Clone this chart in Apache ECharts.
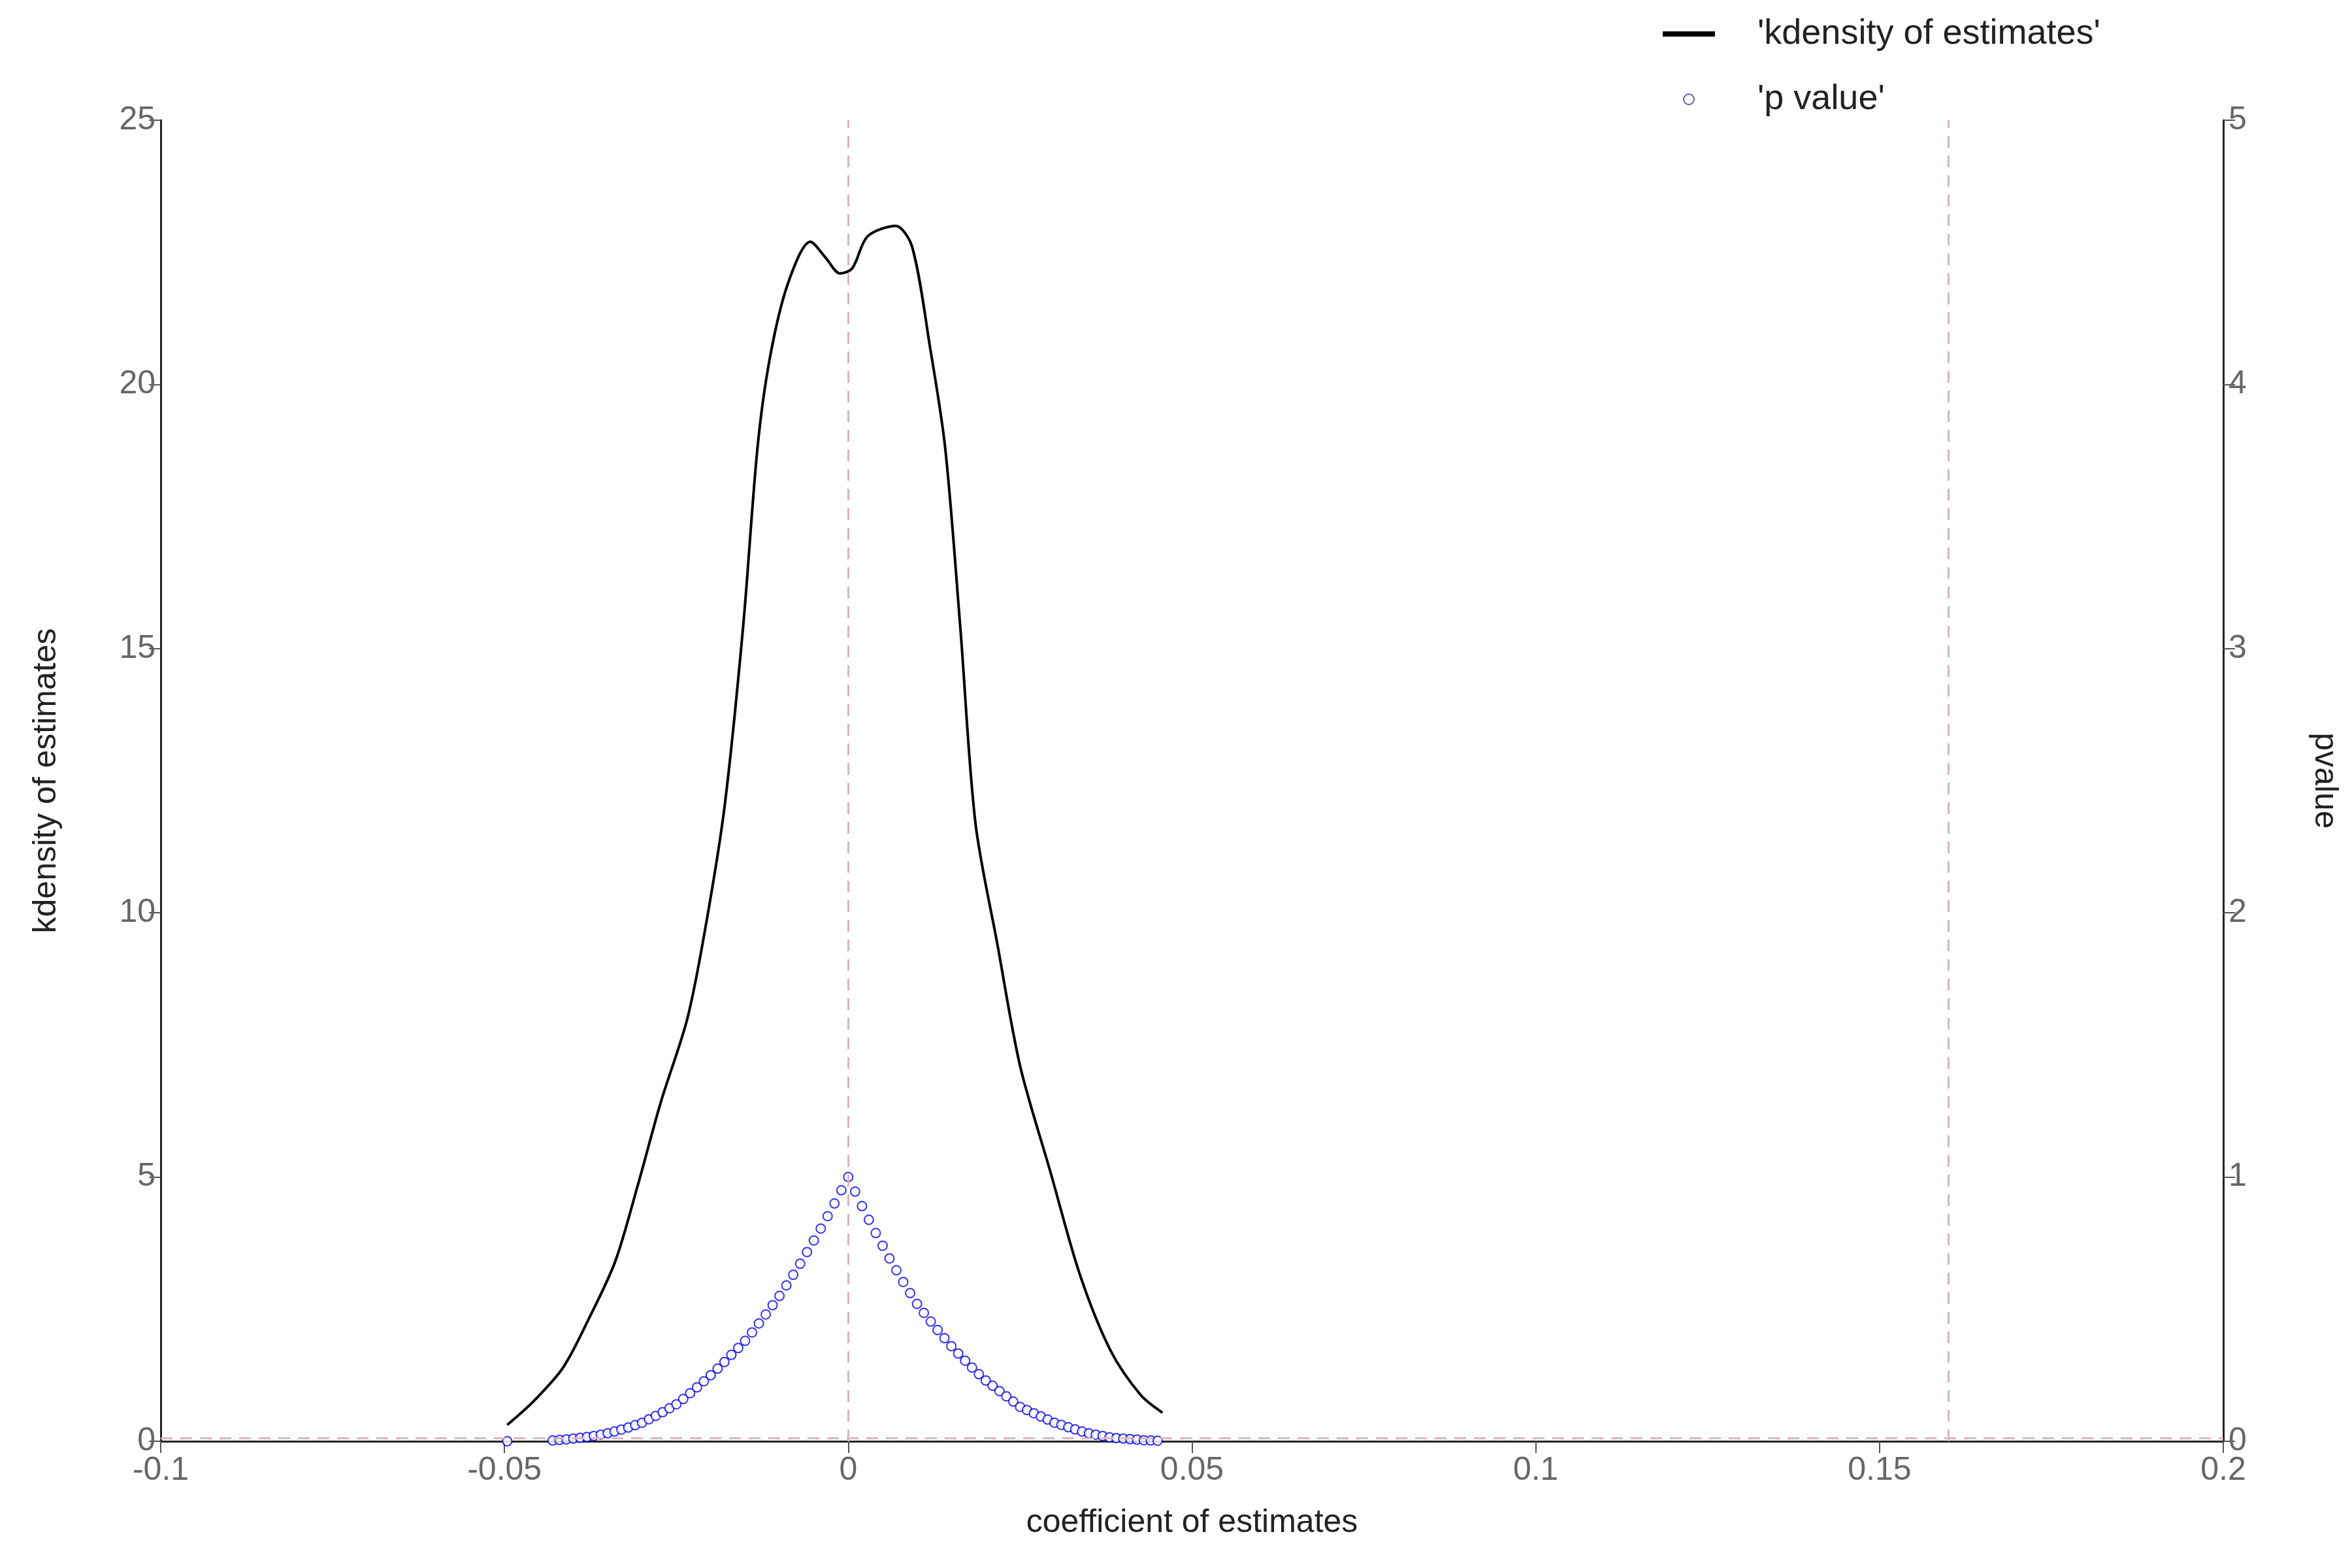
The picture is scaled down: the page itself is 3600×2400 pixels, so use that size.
<!DOCTYPE html>
<html style="height: 100%">
<head>
<meta charset="utf-8">
<script src="https://cdn.jsdelivr.net/npm/echarts@6/dist/echarts.min.js"></script>
</head>
<body style="height: 100%; margin: 0; background: #fff">
<div id="container" style="height: 100%"></div>
<script type="text/javascript">
// kernel density of estimates
var densX = [-0.0496, -0.0459, -0.0415, -0.0378, -0.0339, -0.0306, -0.0273, -0.0234, -0.0208, -0.018, -0.0153, -0.0132, -0.0114, -0.0088, -0.0055, -0.0033, -0.0012, 0.0006, 0.0028, 0.0069, 0.0093, 0.0119, 0.0141, 0.0163, 0.0185, 0.0217, 0.025, 0.0294, 0.0337, 0.0381, 0.0425, 0.0457];
var densY = [0.31, 0.74, 1.39, 2.3, 3.4, 4.85, 6.4, 8.0, 9.7, 12.0, 15.4, 18.8, 20.5, 21.9, 22.7, 22.4, 22.1, 22.2, 22.8, 23.0, 22.6, 20.7, 18.8, 15.4, 11.7, 9.4, 7.1, 5.1, 3.15, 1.73, 0.88, 0.54];

// p values
var pX = [-0.0496, -0.043, -0.042, -0.041, -0.040, -0.039, -0.038, -0.037, -0.036, -0.035, -0.034, -0.033, -0.032, -0.031, -0.030, -0.029, -0.028, -0.027, -0.026, -0.025, -0.024, -0.023, -0.022, -0.021, -0.020, -0.019, -0.018, -0.017, -0.016, -0.015, -0.014, -0.013, -0.012, -0.011, -0.010, -0.009, -0.008, -0.007, -0.006, -0.005, -0.004, -0.003, -0.002, -0.001, 0,
  0.001, 0.002, 0.003, 0.004, 0.005, 0.006, 0.007, 0.008, 0.009, 0.010, 0.011, 0.012, 0.013, 0.014, 0.015, 0.016, 0.017, 0.018, 0.019, 0.020, 0.021, 0.022, 0.023, 0.024, 0.025, 0.026, 0.027, 0.028, 0.029, 0.030, 0.031, 0.032, 0.033, 0.034, 0.035, 0.036, 0.037, 0.038, 0.039, 0.040, 0.041, 0.042, 0.043, 0.044, 0.045];
var pY = [0.0, 0.003, 0.005, 0.007, 0.010, 0.013, 0.016, 0.020, 0.025, 0.030, 0.037, 0.044, 0.052, 0.061, 0.070, 0.083, 0.096, 0.110, 0.125, 0.140, 0.160, 0.182, 0.204, 0.227, 0.250, 0.275, 0.300, 0.327, 0.353, 0.380, 0.412, 0.446, 0.480, 0.515, 0.550, 0.590, 0.630, 0.672, 0.716, 0.760, 0.805, 0.852, 0.900, 0.950, 1.0,
  0.945, 0.890, 0.838, 0.788, 0.740, 0.692, 0.647, 0.603, 0.561, 0.520, 0.486, 0.453, 0.421, 0.390, 0.360, 0.332, 0.305, 0.279, 0.254, 0.230, 0.210, 0.190, 0.170, 0.150, 0.130, 0.118, 0.106, 0.094, 0.082, 0.070, 0.062, 0.053, 0.045, 0.037, 0.030, 0.025, 0.020, 0.015, 0.012, 0.010, 0.008, 0.006, 0.004, 0.003, 0.002];

var refLinesX = [0, 0.1637];

var dens = densX.map(function (x, i) { return [x, densY[i]]; });
var pv = pX.map(function (x, i) { return [x, pY[i]]; });

var myChart = echarts.init(document.getElementById('container'));
var axisCommon = {
    axisLine: { show: true, onZero: false, lineStyle: { color: '#222', width: 3 } },
    axisTick: { show: true, inside: false, length: 18, lineStyle: { color: '#555', width: 2 } },
    axisLabel: { color: '#666', fontSize: 50, fontFamily: 'Liberation Sans' },
    splitLine: { show: false },
    nameTextStyle: { color: '#222', fontSize: 50, fontFamily: 'Liberation Sans' }
};
var pink = { color: '#d9b3c0', type: [18, 12], width: 3 };

myChart.setOption({
    animation: false,
    textStyle: { fontFamily: 'Liberation Sans' },
    grid: { left: 246, right: 197, top: 184, bottom: 194 },
    legend: {
        orient: 'vertical',
        left: 2540,
        top: 20,
        itemGap: 46,
        itemWidth: 80,
        itemHeight: 16,
        textStyle: { color: '#222', fontSize: 54, padding: [0, 0, 0, 60] },
        data: [
            { name: "'kdensity of estimates'", icon: 'path://M0,0 L10,0 L10,1 L0,1 Z', itemStyle: { color: '#000' } },
            { name: "'p value'", icon: 'emptyCircle', itemStyle: { color: '#3333aa', borderColor: '#3333aa', borderWidth: 3 } }
        ]
    },
    xAxis: Object.assign({}, axisCommon, {
        type: 'value', min: -0.1, max: 0.2, interval: 0.05,
        name: 'coefficient of estimates', nameLocation: 'middle', nameGap: 100,
        axisLabel: Object.assign({}, axisCommon.axisLabel, { margin: 20 })
    }),
    yAxis: [
        Object.assign({}, axisCommon, {
            type: 'value', min: 0, max: 25, interval: 5, position: 'left',
            name: 'kdensity of estimates', nameLocation: 'middle', nameGap: 150
        }),
        Object.assign({}, axisCommon, {
            type: 'value', min: 0, max: 5, interval: 1, position: 'right',
            name: 'pvalue', nameLocation: 'middle', nameGap: 130, nameRotate: -90
        })
    ],
    series: [
        {
            name: "'kdensity of estimates'",
            type: 'line',
            data: dens,
            smooth: 0.3,
            showSymbol: false,
            yAxisIndex: 0,
            lineStyle: { color: '#000', width: 4 },
            itemStyle: { color: '#000' },
            markLine: {
                silent: true,
                symbol: 'none',
                label: { show: false },
                lineStyle: pink,
                data: refLinesX.map(function (v) { return { xAxis: v }; }).concat([{ yAxis: 0.06 }])
            },
            z: 3
        },
        {
            name: "'p value'",
            type: 'scatter',
            data: pv,
            yAxisIndex: 1,
            symbol: 'emptyCircle',
            symbolSize: 14,
            itemStyle: { color: '#0000ee', borderColor: '#0000ee', borderWidth: 4 },
            z: 4
        }
    ]
});
window.onresize = myChart.resize;
</script>
</body>
</html>
